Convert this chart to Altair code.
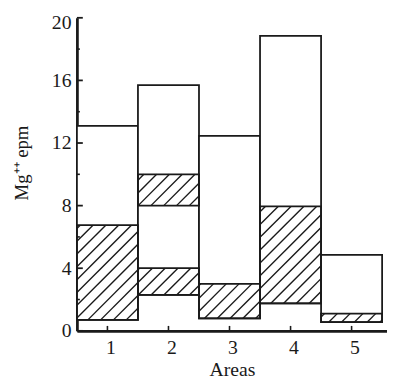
import altair as alt
import pandas as pd

# ---- data ----
areas = [1, 2, 3, 4, 5]
box_low = [0.7, 2.3, 0.8, 1.75, 0.55]
box_high = [13.1, 15.7, 12.45, 18.85, 4.85]

hatch_area = [1, 2, 2, 3, 4, 5]
hatch_low = [0.7, 2.3, 8.0, 0.8, 1.75, 0.55]
hatch_high = [6.75, 4.0, 10.0, 3.0, 7.95, 1.1]

y_ticks = [0, 4, 8, 12, 16, 20]
y_minor = [2, 6, 10, 14, 18]
x_ticks = [1, 2, 3, 4, 5]

# ---- layout ----
W, H = 315, 318
X_MIN, X_MAX = 0.5, 5.58
KX = W / (X_MAX - X_MIN)
KY = H / 20.0
SP = 13  # hatch spacing (px)
INK = "#1a1a1a"
FONT = "Liberation Serif"

boxes = pd.DataFrame({"area": areas, "low": box_low, "high": box_high})
hatch = pd.DataFrame({"area": hatch_area, "low": hatch_low, "high": hatch_high})
yt = pd.DataFrame({"v": y_ticks})
ym = pd.DataFrame({"v": y_minor})
xt = pd.DataFrame({"v": x_ticks})

xs = alt.Scale(domain=[X_MIN, X_MAX], nice=False, zero=False)
ys = alt.Scale(domain=[0, 20], nice=False, zero=False)

x_axis = alt.Axis(
    values=x_ticks, format="d", ticks=False, tickSize=0, grid=False,
    domainWidth=2.8, domainColor=INK,
    labelFont=FONT, labelFontSize=20, labelColor=INK, labelPadding=7,
    labelOffset=3,
    title="Areas", titleFont=FONT, titleFontSize=20, titleFontWeight="normal",
    titleColor=INK, titleY=45, titleBaseline="alphabetic",
)
y_axis = alt.Axis(
    values=y_ticks, ticks=False, tickSize=0, grid=False,
    domainWidth=2.8, domainColor=INK,
    labelFont=FONT, labelFontSize=20, labelColor=INK, labelPadding=6,
    labelOffset={"condition": {"test": "datum.value == 20", "value": 5}, "value": 0},
    title="Mg\u207A\u207A epm", titleFont=FONT, titleFontSize=19,
    titleFontWeight="normal", titleColor=INK, titleAngle=270,
    titleX=-56, titleY=147, titleAlign="center", titleBaseline="middle",
)

box_layer = alt.Chart(boxes).transform_calculate(
    x0="datum.area - 0.5", x1="datum.area + 0.5"
).mark_rect(fill="white", stroke=INK, strokeWidth=1.8).encode(
    x=alt.X("x0:Q", scale=xs, axis=x_axis),
    x2="x1:Q",
    y=alt.Y("low:Q", scale=ys, axis=y_axis),
    y2="high:Q",
)

hatch_lines = alt.Chart(hatch).transform_calculate(
    a0=f"(datum.area - 0.5 - {X_MIN}) * {KX}",
    a1=f"(datum.area + 0.5 - {X_MIN}) * {KX}",
    b0=f"datum.low * {KY}",
    b1=f"datum.high * {KY}",
).transform_calculate(
    ks=f"sequence(ceil((datum.a0 - datum.b1) / {SP}), floor((datum.a1 - datum.b0) / {SP}) + 1)"
).transform_flatten(["ks"], as_=["k"]).transform_calculate(
    c=f"datum.k * {SP}"
).transform_calculate(
    us="max(datum.a0, datum.b0 + datum.c)",
    ue="min(datum.a1, datum.b1 + datum.c)",
).transform_filter("datum.ue - datum.us > 0.8").transform_calculate(
    hx0=f"datum.us / {KX} + {X_MIN}",
    hx1=f"datum.ue / {KX} + {X_MIN}",
    hy0=f"(datum.us - datum.c) / {KY}",
    hy1=f"(datum.ue - datum.c) / {KY}",
).mark_rule(color=INK, strokeWidth=1.4).encode(
    x=alt.X("hx0:Q", scale=xs),
    x2="hx1:Q",
    y=alt.Y("hy0:Q", scale=ys),
    y2="hy1:Q",
)

hatch_box = alt.Chart(hatch).transform_calculate(
    x0="datum.area - 0.5", x1="datum.area + 0.5"
).mark_rect(fillOpacity=0, stroke=INK, strokeWidth=1.8).encode(
    x=alt.X("x0:Q", scale=xs),
    x2="x1:Q",
    y=alt.Y("low:Q", scale=ys),
    y2="high:Q",
)

y_major = alt.Chart(yt).mark_rule(color=INK, strokeWidth=1.8).encode(
    y=alt.Y("v:Q", scale=ys), x=alt.value(0), x2=alt.value(6)
)
y_min = alt.Chart(ym).mark_rule(color=INK, strokeWidth=1.6).encode(
    y=alt.Y("v:Q", scale=ys), x=alt.value(0), x2=alt.value(3)
)
x_major = alt.Chart(xt).mark_rule(color=INK, strokeWidth=1.6).encode(
    x=alt.X("v:Q", scale=xs), y=alt.value(H), y2=alt.value(H - 5)
)

chart = alt.layer(
    box_layer, hatch_lines, hatch_box, y_major, y_min, x_major
).properties(
    width=W, height=H,
    autosize=alt.AutoSizeParams(type="none"),
    padding={"left": 70, "top": 7, "right": 0, "bottom": 48},
    background="white",
).configure_view(stroke=None)

chart.save("out.html", embed_options={"renderer": "svg", "actions": False})
